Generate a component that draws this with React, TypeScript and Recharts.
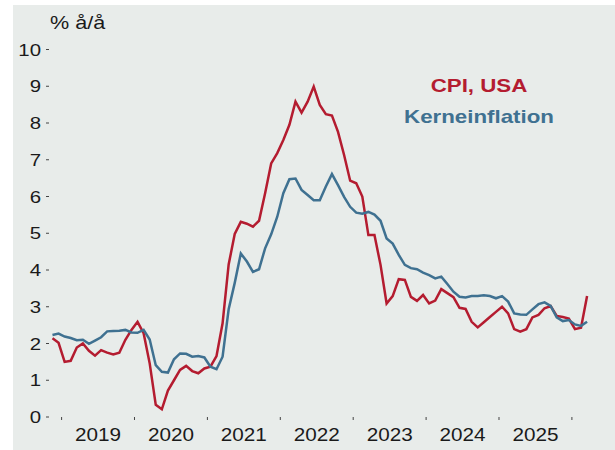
import React from 'react';
import { LineChart, Line, XAxis, YAxis } from 'recharts';

// monthly observations, first one is Nov 2018, last one Mar 2026
const START_YEAR = 2018;
const START_MONTH = 11;

const cpiUsa = [
  2.14, 2.02,
  1.5, 1.53, 1.89, 2.0, 1.8, 1.67, 1.82, 1.75, 1.7, 1.75, 2.1, 2.37,
  2.59, 2.28, 1.46, 0.33, 0.21, 0.72, 1.0, 1.28, 1.39, 1.25, 1.19, 1.32,
  1.37, 1.66, 2.55, 4.15, 4.98, 5.31, 5.26, 5.18, 5.34, 6.09, 6.9, 7.18,
  7.54, 7.95, 8.58, 8.28, 8.58, 8.99, 8.49, 8.24, 8.2, 7.76, 7.13, 6.43,
  6.36, 6.0, 4.95, 4.95, 4.14, 3.09, 3.29, 3.75, 3.73, 3.27, 3.16, 3.32,
  3.09, 3.17, 3.48, 3.37, 3.26, 2.97, 2.94, 2.59, 2.44, 2.58, 2.72, 2.86,
  3.0, 2.82, 2.39, 2.32, 2.39, 2.71, 2.78, 2.96, 3.02, 2.75, 2.72, 2.68,
  2.39, 2.43, 3.29,
];

const coreInflation = [
  2.23, 2.27,
  2.19, 2.15, 2.09, 2.1, 1.99, 2.08, 2.17, 2.33, 2.34, 2.35, 2.37, 2.3,
  2.29, 2.37, 2.11, 1.41, 1.23, 1.21, 1.57, 1.73, 1.72, 1.64, 1.66, 1.62,
  1.37, 1.3, 1.64, 2.93, 3.65, 4.45, 4.23, 3.95, 4.02, 4.59, 4.97, 5.45,
  6.09, 6.47, 6.49, 6.18, 6.04, 5.9, 5.9, 6.27, 6.61, 6.31, 5.99, 5.72,
  5.56, 5.53, 5.58, 5.51, 5.34, 4.86, 4.72, 4.41, 4.14, 4.05, 4.02, 3.93,
  3.86, 3.77, 3.82, 3.62, 3.41, 3.27, 3.25, 3.29, 3.29, 3.31, 3.29, 3.23,
  3.29, 3.14, 2.82, 2.79, 2.78, 2.93, 3.07, 3.12, 3.02, 2.71, 2.61, 2.64,
  2.52, 2.48, 2.59,
];

const yearLabels = ['2019', '2020', '2021', '2022', '2023', '2024', '2025'];
const yTicks = [0, 1, 2, 3, 4, 5, 6, 7, 8, 9, 10];

const RED = '#b41c30';
const BLUE = '#3f7191';
const INK = '#1a1a1a';
const FONT = '"Liberation Sans", Arial, sans-serif';

const data = cpiUsa.map((cpi, i) => {
  const m = START_MONTH - 1 + i;
  const year = START_YEAR + Math.floor(m / 12);
  return { t: year + ((m % 12) + 0.5) / 12, cpi, core: coreInflation[i] };
});

// tick marks at year starts, labels in the middle of each year
const firstYear = Number(yearLabels[0]);
const xTicks: number[] = [];
yearLabels.forEach((_, k) => {
  xTicks.push(firstYear + k, firstYear + k + 0.5);
});
xTicks.push(firstYear + yearLabels.length);

const YearTick = (props: any) => {
  const { x, y, payload } = props;
  const v = payload.value as number;
  if (Number.isInteger(v)) {
    return <line x1={x} x2={x} y1={y - 3} y2={y} stroke="#444" strokeWidth={1} />;
  }
  return (
    <text
      transform={`translate(${x},${y + 21}) scale(1.15,1)`}
      textAnchor="middle"
      fontSize={18}
      fontFamily={FONT}
      fill={INK}
    >
      {Math.floor(v)}
    </text>
  );
};

const ValueTick = (props: any) => {
  const { x, y, payload } = props;
  return (
    <text
      transform={`translate(${x},${y}) scale(1.2,1)`}
      textAnchor="end"
      dy="0.36em"
      fontSize={17}
      fontFamily={FONT}
      fill={INK}
    >
      {payload.value}
    </text>
  );
};

export default function App() {
  return (
    <div style={{ position: 'absolute', left: 0, top: 0, width: 615, height: 450, background: '#fff' }}>
      <div style={{ position: 'absolute', left: 13, top: 5, width: 602, height: 445, background: '#e8ecea' }} />
      <div style={{ position: 'absolute', left: 0, top: 0 }}>
        <LineChart width={615} height={450} data={data} margin={{ top: 49.5, right: 15, left: 0, bottom: 0 }}>
          <XAxis
            dataKey="t"
            type="number"
            domain={[2018.8272, 2026.3855]}
            allowDataOverflow
            ticks={xTicks}
            interval={0}
            tick={<YearTick />}
            tickLine={false}
            axisLine={false}
            tickSize={3}
            tickMargin={0}
            height={33}
          />
          <YAxis
            type="number"
            domain={[0, 10]}
            allowDataOverflow
            ticks={yTicks}
            interval={0}
            tick={<ValueTick />}
            tickLine={{ stroke: '#444' }}
            axisLine={false}
            tickSize={3}
            tickMargin={5}
            width={49}
          />
          <Line type="linear" dataKey="cpi" stroke={RED} strokeWidth={2.5} dot={false} isAnimationActive={false} />
          <Line type="linear" dataKey="core" stroke={BLUE} strokeWidth={2.5} dot={false} isAnimationActive={false} />
        </LineChart>
      </div>
      <svg width={615} height={450} style={{ position: 'absolute', left: 0, top: 0, pointerEvents: 'none' }}>
        <text transform="translate(50,29) scale(1.2,1)" fontSize={18} fontFamily={FONT} fill={INK}>
          % å/å
        </text>
        <text transform="translate(479,92) scale(1.2,1)" textAnchor="middle" fontSize={18.6} fontWeight="bold" fontFamily={FONT} fill={RED}>
          CPI, USA
        </text>
        <text transform="translate(479,123) scale(1.2,1)" textAnchor="middle" fontSize={18.6} fontWeight="bold" fontFamily={FONT} fill={BLUE}>
          Kerneinflation
        </text>
      </svg>
    </div>
  );
}
